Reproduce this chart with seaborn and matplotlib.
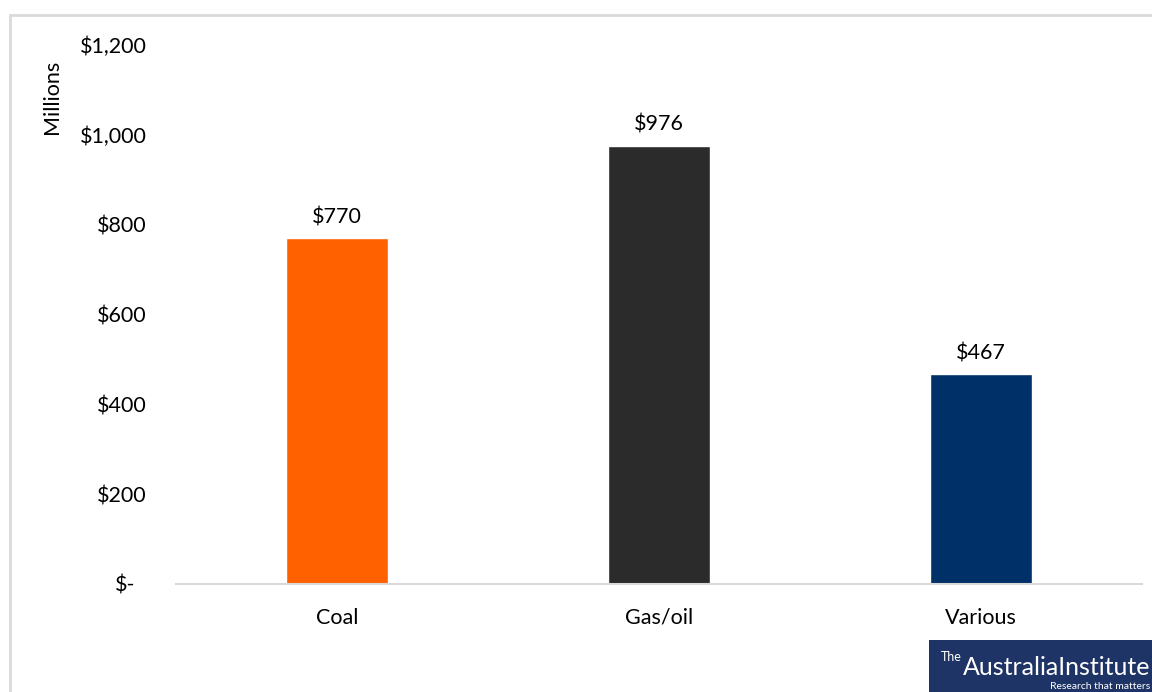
import matplotlib
matplotlib.use("Agg")
import matplotlib.pyplot as plt
import matplotlib.transforms as mtrans
import seaborn as sns
import pandas as pd
from matplotlib.patches import Rectangle
from matplotlib.lines import Line2D
from matplotlib.ticker import FuncFormatter

categories = ["Coal", "Gas/oil", "Various"]
values = [770, 976, 467]
colors = ["#FF6100", "#2B2B2B", "#003068"]
yticks = [0, 200, 400, 600, 800, 1000, 1200]

sns.set_theme(style="white")
plt.rcParams['font.family'] = ['Lato', 'DejaVu Sans']

W, H = 1152, 692
fig = plt.figure(figsize=(W / 100, H / 100), dpi=100)
ax = fig.add_axes([176 / W, 1 - 584 / H, (1142 - 176) / W, (584 - 45) / H])

df = pd.DataFrame({"cat": categories, "val": values})
sns.barplot(data=df, x="cat", y="val", hue="cat", palette=colors, width=0.314,
            legend=False, ax=ax, saturation=1)

ax.set_xlim(-0.5, 2.5)
ax.set_ylim(0, 1200)
ax.set_yticks(yticks)
ax.yaxis.set_major_formatter(FuncFormatter(lambda v, p: "$-" if v == 0 else f"${v:,.0f}"))
ax.tick_params(axis="y", labelsize=15.5, length=0, pad=21, colors="black")
ax.tick_params(axis="x", labelsize=15.5, length=0, pad=17, colors="black")
ax.set_xlabel("")
ax.set_ylabel("Millions", fontsize=15.5, color="black")
ax.yaxis.set_label_coords(-0.118, 0.9036)

for s in ["top", "right", "left"]:
    ax.spines[s].set_visible(False)
ax.spines["bottom"].set_color("#D9D9D9")
ax.spines["bottom"].set_linewidth(1.5)

for i, v in enumerate(values):
    ax.annotate(f"${v:,.0f}", (i, v), xytext=(0, 8), textcoords="offset points",
                ha="center", va="bottom", fontsize=15.5, color="black")

# shift the "$-" label left (accounting-style alignment)
zero_tick = ax.yaxis.get_major_ticks()[0]
zero_tick.label1.set_transform(zero_tick.label1.get_transform() +
                               mtrans.ScaledTranslation(-11 / 100, 0, fig.dpi_scale_trans))

# outer border (light grey)
fig.add_artist(Line2D([10 / W, 10 / W], [0, 1 - 15 / H], transform=fig.transFigure,
                      color="#D9D9D9", lw=2))
fig.add_artist(Line2D([10 / W, 1], [1 - 15 / H, 1 - 15 / H], transform=fig.transFigure,
                      color="#D9D9D9", lw=2))

# logo
fig.add_artist(Rectangle((929 / W, 0), (W - 929) / W, 52 / H, transform=fig.transFigure,
                         facecolor="#1F3466", edgecolor="none"))
fig.text(941 / W, 1 - 661 / H, "The", transform=fig.transFigure, color="white",
         fontsize=9, va="baseline", ha="left")
fig.text(963 / W, 1 - 675 / H, "AustraliaInstitute", transform=fig.transFigure, color="white",
         fontsize=18, va="baseline", ha="left")
fig.text(1150 / W, 1 / H, "Research that matters", transform=fig.transFigure,
         color="white", fontsize=7.5, va="bottom", ha="right")

fig.savefig("out.png", dpi=100)
